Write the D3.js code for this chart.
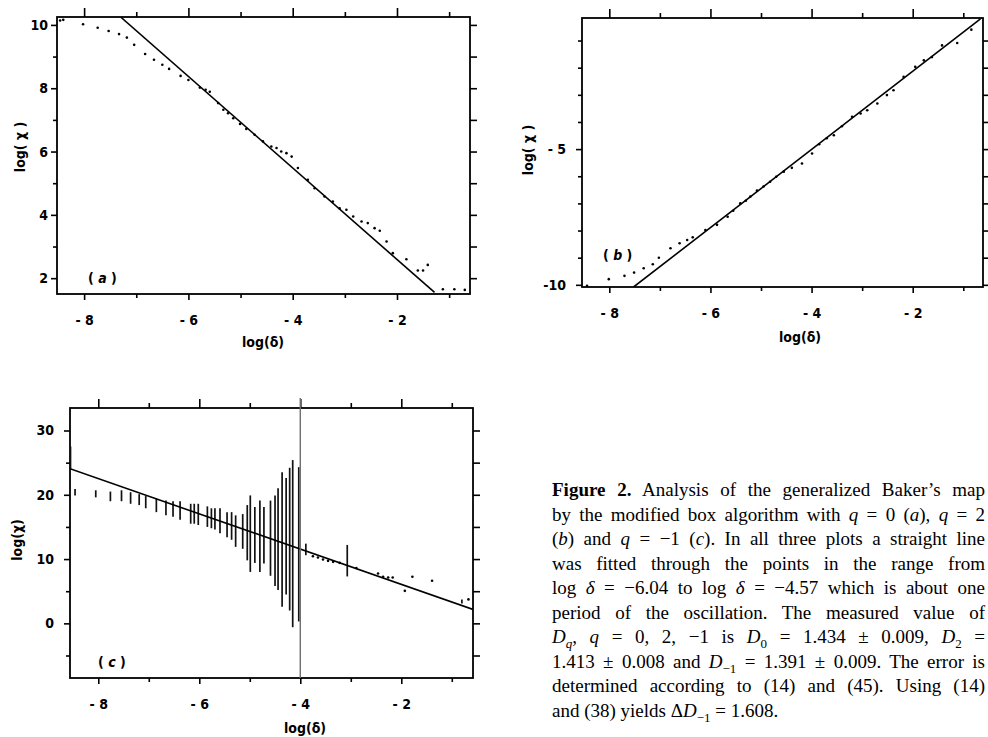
<!DOCTYPE html>
<html><head><meta charset="utf-8">
<script src="https://cdn.jsdelivr.net/npm/d3@7"></script>
<style>body{margin:0;background:#fff}svg{display:block}</style>
</head><body>
<script>
// ---------- data: panel (a) q = 0 ----------
const aX = [-8.46,-8.40,-8.02,-7.74,-7.53,-7.33,-7.18,-7.04,-6.83,-6.66,-6.50,-6.37,-6.15,-6.00,-5.78,-5.67,-5.59,-5.43,-5.33,-5.24,-5.14,-5.01,-4.89,-4.73,-4.57,-4.41,-4.31,-4.22,-4.12,-4.02,-3.90,-3.71,-3.58,-3.39,-3.23,-3.10,-2.97,-2.84,-2.68,-2.56,-2.43,-2.33,-2.20,-2.08,-1.82,-1.60,-1.50,-1.41,-1.12,-0.90,-0.70];
const aY = [10.14,10.16,10.02,9.91,9.81,9.71,9.60,9.37,9.08,8.90,8.74,8.61,8.39,8.26,8.02,7.95,7.89,7.53,7.32,7.21,7.05,6.87,6.71,6.53,6.32,6.16,6.11,6.00,5.95,5.84,5.48,5.11,4.84,4.58,4.42,4.21,4.16,3.95,3.79,3.74,3.58,3.50,3.16,2.79,2.60,2.24,2.24,2.42,1.65,1.65,1.63];
const aFitX = [-7.30, -1.28];
const aFitY = [10.25, 1.55];
const aXTicks = [-8,-6,-4,-2];
const aXTickLabels = ["- 8","- 6","- 4","- 2"];
const aYTicks = [2,4,6,8,10];
const aYTickLabels = ["2","4","6","8","10"];

// ---------- data: panel (b) q = 2 ----------
const bX = [-8.44,-8.01,-7.70,-7.51,-7.32,-7.14,-7.02,-6.79,-6.61,-6.46,-6.35,-6.10,-5.87,-5.66,-5.55,-5.41,-5.30,-5.21,-5.08,-4.95,-4.82,-4.70,-4.55,-4.39,-4.19,-3.99,-3.85,-3.70,-3.56,-3.40,-3.20,-3.03,-2.90,-2.70,-2.51,-2.38,-2.18,-1.95,-1.78,-1.62,-1.42,-1.12,-0.84];
const bY = [-10.04,-9.79,-9.67,-9.55,-9.39,-9.24,-9.00,-8.65,-8.47,-8.35,-8.25,-7.98,-7.79,-7.49,-7.27,-7.00,-6.90,-6.75,-6.53,-6.38,-6.20,-6.02,-5.83,-5.69,-5.53,-5.16,-4.82,-4.60,-4.49,-4.16,-3.81,-3.69,-3.57,-3.32,-3.01,-2.83,-2.34,-1.97,-1.73,-1.61,-1.18,-1.09,-0.60];
const bFitX = [-7.52, -0.66];
const bFitY = [-10.08, -0.20];
const bXTicks = [-8,-6,-4,-2];
const bXTickLabels = ["- 8","- 6","- 4","- 2"];
const bYTicks = [-10,-5];
const bYTickLabels = ["-10","- 5"];

// ---------- data: panel (c) q = -1 ----------
const cBarX  = [-8.55,-8.46,-8.05,-7.76,-7.54,-7.36,-7.19,-7.06,-6.85,-6.66,-6.52,-6.38,-6.17,-6.10,-6.02,-5.84,-5.76,-5.69,-5.59,-5.45,-5.36,-5.28,-5.14,-5.05,-4.99,-4.90,-4.80,-4.72,-4.59,-4.50,-4.44,-4.36,-4.28,-4.21,-4.15,-4.03,-3.89,-3.07,-0.80];
const cBarLo = [24.0,19.9,19.6,19.0,19.0,18.6,18.4,17.9,17.3,16.8,16.6,16.1,15.5,15.5,15.3,15.0,14.8,14.6,14.0,13.4,13.0,11.9,11.6,9.8,8.0,9.4,8.0,9.3,7.4,5.8,5.2,2.6,4.5,2.0,-0.6,0.3,10.6,7.3,3.1];
const cBarHi = [27.5,20.9,20.7,20.5,20.7,20.4,20.1,19.8,19.4,19.1,19.0,19.0,18.6,18.6,18.6,18.2,17.9,17.9,17.9,17.3,17.3,16.8,17.0,18.4,19.9,18.1,19.1,18.1,19.1,19.9,21.0,23.5,22.6,24.2,25.4,24.3,12.4,12.2,3.7];
const cDotX = [-3.75,-3.65,-3.55,-3.45,-3.35,-3.22,-2.89,-2.46,-2.36,-2.26,-2.17,-1.93,-1.78,-1.39,-0.67];
const cDotY = [10.45,10.25,9.94,9.72,9.57,9.41,8.60,7.76,7.24,7.14,7.14,5.06,7.24,6.62,3.73];
const cFitX = [-8.56, -0.58];
const cFitY = [24.05, 2.17];
const cMarkX = -4;
const cXTicks = [-8,-6,-4,-2];
const cXTickLabels = ["- 8","- 6","- 4","- 2"];
const cYTicks = [0,10,20,30];
const cYTickLabels = ["0","10","20","30"];

// ---------- caption ----------
const captionLines = [
  [["Figure 2.","b"],[" Analysis of the generalized Baker\u2019s map",""]],
  [["by the modified box algorithm with ",""],["q","i"],[" = 0 (",""],["a","i"],["), ",""],["q","i"],[" = 2",""]],
  [["(",""],["b","i"],[") and ",""],["q","i"],[" = \u22121 (",""],["c","i"],["). In all three plots a straight line",""]],
  [["was fitted through the points in the range from",""]],
  [["log ",""],["\u03b4","i"],[" = \u22126.04 to log ",""],["\u03b4","i"],[" = \u22124.57 which is about one",""]],
  [["period of the oscillation. The measured value of",""]],
  [["D","i"],["q","si"],[", ",""],["q","i"],[" = 0, 2, \u22121 is ",""],["D","i"],["0","s"],[" = 1.434 \u00b1 0.009, ",""],["D","i"],["2","s"],[" =",""]],
  [["1.413 \u00b1 0.008 and ",""],["D","i"],["\u22121","s"],[" = 1.391 \u00b1 0.009. The error is",""]],
  [["determined according to (14) and (45). Using (14)",""]],
  [["and (38) yields \u0394",""],["D","i"],["\u22121","s"],[" = 1.608.",""]]
];

const W = 988, H = 737;
const svg = d3.select('body').append('svg').attr('width', W).attr('height', H);
svg.append('rect').attr('width', W).attr('height', H).attr('fill', '#fff');
const AXF = '"DejaVu Sans Condensed","DejaVu Sans",sans-serif';
const fmtMinor = () => '';

function drawPanel(p) {
  const x = d3.scaleLinear().domain(p.xDomain).range([p.left, p.right]);
  const y = d3.scaleLinear().domain(p.yDomain).range([p.bottom, p.top]);
  const g = svg.append('g');
  const clipId = 'clip' + p.id;
  svg.append('clipPath').attr('id', clipId).append('rect')
    .attr('x', p.left).attr('y', p.top).attr('width', p.right - p.left).attr('height', p.bottom - p.top);

  function ax(gen, tr) {
    const a = g.append('g').attr('transform', tr).call(gen);
    a.select('.domain').remove();
    a.selectAll('line').attr('stroke', '#000').attr('stroke-width', 1.6);
    a.selectAll('text').attr('font-family', AXF).attr('font-size', 14).attr('font-weight', 'bold').attr('fill', '#000');
    return a;
  }
  ax(d3.axisBottom(x).tickValues(p.xTicks).tickFormat((d, i) => p.xTickLabels[i]).tickSize(6).tickPadding(15), `translate(0,${p.bottom})`);
  ax(d3.axisBottom(x).tickValues(p.xMinor).tickFormat(fmtMinor).tickSize(4), `translate(0,${p.bottom})`);
  ax(d3.axisTop(x).tickValues(p.xTicks).tickFormat(fmtMinor).tickSize(9), `translate(0,${p.top})`);
  ax(d3.axisTop(x).tickValues(p.xMinor).tickFormat(fmtMinor).tickSize(5), `translate(0,${p.top})`);
  ax(d3.axisLeft(y).tickValues(p.yTicks).tickFormat((d, i) => p.yTickLabels[i]).tickSize(6).tickPadding(p.yPad), `translate(${p.left},0)`);
  ax(d3.axisLeft(y).tickValues(p.yMinor).tickFormat(fmtMinor).tickSize(4), `translate(${p.left},0)`);
  ax(d3.axisRight(y).tickValues(p.yTicks.concat(p.yMinor)).tickFormat(fmtMinor).tickSize(7), `translate(${p.right},0)`);

  g.append('rect').attr('x', p.left).attr('y', p.top).attr('width', p.right - p.left).attr('height', p.bottom - p.top)
    .attr('fill', 'none').attr('stroke', '#000').attr('stroke-width', 1.8);

  const plot = g.append('g').attr('clip-path', `url(#${clipId})`);
  if (p.markX !== undefined) {
    g.append('line').attr('x1', x(p.markX)).attr('x2', x(p.markX)).attr('y1', p.top - 10).attr('y2', p.bottom)
      .attr('stroke', '#6e6e6e').attr('stroke-width', 1.4);
  }
  if (p.bars) {
    plot.selectAll('line.bar').data(p.bars.x).join('line').attr('class', 'bar')
      .attr('x1', d => x(d)).attr('x2', d => x(d))
      .attr('y1', (d, i) => y(p.bars.lo[i])).attr('y2', (d, i) => y(p.bars.hi[i]))
      .attr('stroke', '#111').attr('stroke-width', 1.7);
  }
  const line = d3.line().x(d => x(d[0])).y(d => y(d[1]));
  plot.append('path').datum(p.fitX.map((v, i) => [v, p.fitY[i]])).attr('d', line)
    .attr('fill', 'none').attr('stroke', '#000').attr('stroke-width', 1.6);
  plot.selectAll('circle.pt').data(p.ptX).join('circle').attr('class', 'pt')
    .attr('cx', d => x(d)).attr('cy', (d, i) => y(p.ptY[i])).attr('r', 1.3).attr('fill', '#000');

  // axis titles
  g.append('text').attr('x', p.xTitle[0]).attr('y', p.xTitle[1]).attr('text-anchor', 'middle').attr('dominant-baseline', 'central')
    .attr('font-family', AXF).attr('font-size', 14).attr('font-weight', 'bold').text('log(\u03b4)');
  g.append('text').attr('transform', `translate(${p.yTitle[0]},${p.yTitle[1]}) rotate(-90)`).attr('text-anchor', 'middle')
    .attr('dominant-baseline', 'central').attr('font-family', AXF).attr('font-size', 14).attr('font-weight', 'bold').text(p.yTitleText);
  // panel tag
  const t = g.append('text').attr('x', p.tag[0]).attr('y', p.tag[1]).attr('dominant-baseline', 'central')
    .attr('font-family', AXF).attr('font-size', 14).attr('font-weight', 'bold').style('white-space', 'pre');
  t.append('tspan').text('( ');
  t.append('tspan').attr('font-style', 'italic').text(p.tagLetter);
  t.append('tspan').text(' )');
}

drawPanel({id: 'a', xDomain: [-8.52, -0.60], yDomain: [1.5, 10.25], left: 57, right: 470, top: 17, bottom: 294,
  xTicks: aXTicks, xTickLabels: aXTickLabels, xMinor: [-7,-5,-3,-1], yTicks: aYTicks, yTickLabels: aYTickLabels,
  yMinor: [3,5,7,9], yPad: 3, ptX: aX, ptY: aY, fitX: aFitX, fitY: aFitY,
  xTitle: [263, 342], yTitle: [20, 147], yTitleText: 'log( \u03c7 )', tag: [88, 278], tagLetter: 'a'});

drawPanel({id: 'b', xDomain: [-8.54, -0.61], yDomain: [-10.08, -0.17], left: 582, right: 983, top: 18, bottom: 287,
  xTicks: bXTicks, xTickLabels: bXTickLabels, xMinor: [-7,-5,-3,-1], yTicks: bYTicks, yTickLabels: bYTickLabels,
  yMinor: [-1,-2,-3,-4,-6,-7,-8,-9], yPad: 10, ptX: bX, ptY: bY, fitX: bFitX, fitY: bFitY,
  xTitle: [800, 337], yTitle: [528, 150], yTitleText: 'log( \u03c7 )', tag: [603, 255], tagLetter: 'b'});

drawPanel({id: 'c', xDomain: [-8.56, -0.58], yDomain: [-8.5, 33.5], left: 70, right: 473, top: 408, bottom: 678,
  xTicks: cXTicks, xTickLabels: cXTickLabels, xMinor: [-7,-5,-3,-1], yTicks: cYTicks, yTickLabels: cYTickLabels,
  yMinor: [-5,5,15,25], yPad: 10, ptX: cDotX, ptY: cDotY, fitX: cFitX, fitY: cFitY,
  bars: {x: cBarX, lo: cBarLo, hi: cBarHi}, markX: cMarkX,
  xTitle: [305, 728], yTitle: [17, 540], yTitleText: 'log(\u03c7)', tag: [98, 662], tagLetter: 'c'});

// caption
const capLeft = 552, capRight = 985, capTop = 490, capStep = 24.5;
captionLines.forEach((segs, li) => {
  const t = svg.append('text').attr('x', capLeft).attr('y', capTop + li * capStep + 6)
    .attr('font-family', '"Liberation Serif","Times New Roman",serif').attr('font-size', 19)
    .style('white-space', 'pre').attr('fill', '#000');
  let shifted = false;
  segs.forEach(([txt, st]) => {
    const s = t.append('tspan').text(txt);
    if (st.includes('b')) s.attr('font-weight', 'bold');
    if (st.includes('i')) s.attr('font-style', 'italic');
    if (st.includes('s')) { s.attr('font-size', 13); if (!shifted) { s.attr('dy', 5); shifted = true; } }
    else if (shifted) { s.attr('dy', -5); shifted = false; }
  });
  if (li < captionLines.length - 1) {
    const full = segs.map(s => s[0]).join('');
    const n = (full.match(/ /g) || []).length;
    const L = t.node().getComputedTextLength();
    if (n > 0) t.attr('word-spacing', Math.max(0, (capRight - capLeft - L) / n));
  }
});
</script>
</body></html>
